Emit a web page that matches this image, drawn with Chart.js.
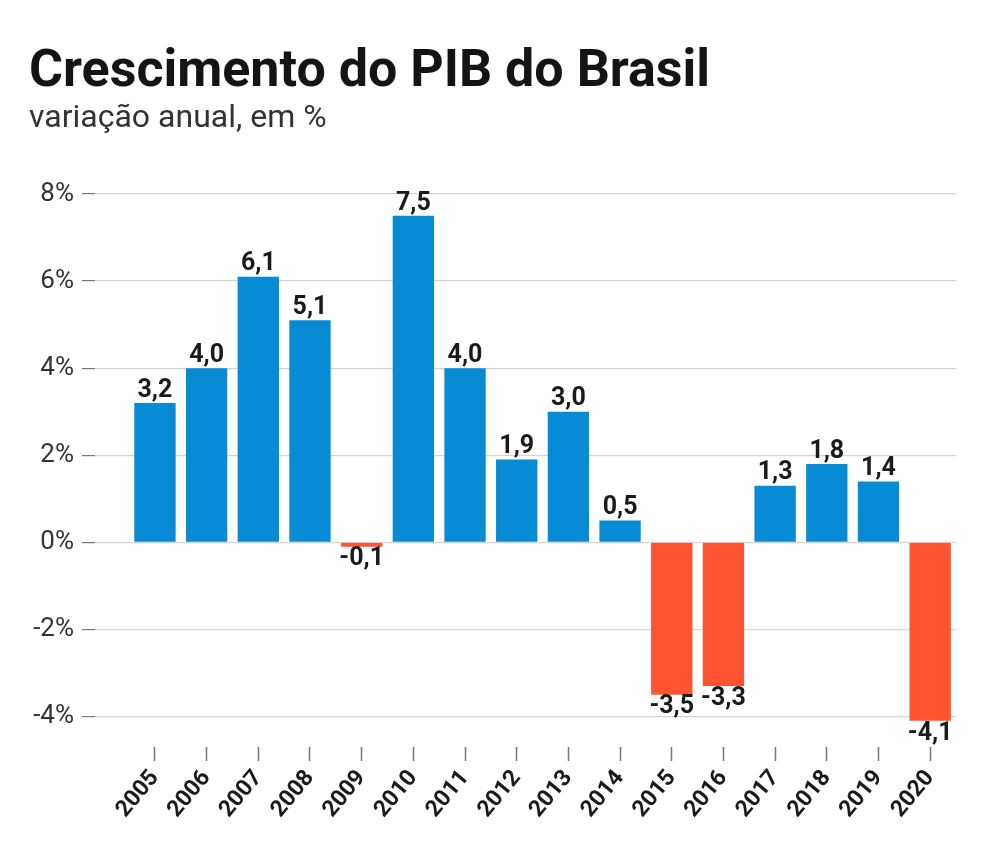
<!DOCTYPE html>
<html>
<head>
<meta charset="utf-8">
<script src="https://cdn.jsdelivr.net/npm/chart.js@4.4.1/dist/chart.umd.min.js"></script>
<style>
  body { margin: 0; background: #ffffff; }
  #wrap { position: relative; width: 1001px; height: 859px; }
</style>
</head>
<body>
<div id="wrap"><canvas id="pib" width="1001" height="859"></canvas></div>
<script>
/* --------------- Data --------------------- */
const years = [2005, 2006, 2007, 2008, 2009, 2010, 2011, 2012, 2013, 2014, 2015, 2016, 2017, 2018, 2019, 2020];
const growth = [3.2, 4.0, 6.1, 5.1, -0.1, 7.5, 4.0, 1.9, 3.0, 0.5, -3.5, -3.3, 1.3, 1.8, 1.4, -4.1];
const yTicks = [-4, -2, 0, 2, 4, 6, 8];

const title = "Crescimento do PIB do Brasil";
const subtitle = "variação anual, em %";

/* --------------- Colors --------------------- */
const blue = "#078bd5";
const red = "#ff5332";

/* --------------- Headline drawn on the canvas --------------------- */
const headline = {
    id: "headline",
    beforeDraw(chart) {
        const ctx = chart.ctx;
        ctx.save();
        ctx.textAlign = "left";
        ctx.textBaseline = "alphabetic";
        ctx.fillStyle = "#141414";
        ctx.font = "bold 52px Roboto";
        ctx.fillText(title, 29, 86);
        ctx.fillStyle = "#333333";
        ctx.font = "32px Roboto";
        ctx.fillText(subtitle, 29, 127);
        ctx.restore();
    },
};

/* --------------- Value labels on the bars --------------------- */
const valueLabels = {
    id: "valueLabels",
    afterDatasetsDraw(chart) {
        const ctx = chart.ctx;
        const meta = chart.getDatasetMeta(0);
        ctx.save();
        ctx.font = "bold 25px Roboto";
        ctx.fillStyle = "#1a1a1a";
        ctx.textAlign = "center";
        meta.data.forEach((bar, i) => {
            const v = growth[i];
            const txt = v.toFixed(1).replace(".", ",");
            if (v >= 0) {
                ctx.textBaseline = "bottom";
                ctx.fillText(txt, bar.x, bar.y);
            } else {
                ctx.textBaseline = "top";
                ctx.fillText(txt, bar.x, bar.y);
            }
        });
        ctx.restore();
    },
};

/* --------------- Chart --------------------- */
const pibChart = new Chart(document.getElementById("pib"), {
    type: "bar",
    plugins: [headline, valueLabels],
    data: {
        datasets: [
            {
                data: years.map((y, i) => ({ x: y, y: growth[i] })),
                backgroundColor: growth.map((v) => (v < 0 ? red : blue)),
                barPercentage: 0.8,
                categoryPercentage: 1,
            },
        ],
    },
    options: {
        responsive: false,
        animation: false,
        layout: { padding: { top: 194, right: 45, left: 0, bottom: 0 } },
        plugins: {
            legend: { display: false },
            tooltip: { enabled: false },
        },
        scales: {
            x: {
                type: "linear",
                offset: false,
                min: 2003.84,
                max: 2020.5,
                afterBuildTicks: (s) => {
                    s.ticks = years.map((v) => ({ value: v }));
                },
                afterFit: (s) => {
                    s.height = 112;
                },
                border: { display: false },
                grid: {
                    offset: false,
                    drawOnChartArea: false,
                    tickLength: 14,
                    tickColor: "#777777",
                    tickWidth: 1.5,
                },
                ticks: {
                    autoSkip: false,
                    minRotation: 50,
                    maxRotation: 50,
                    padding: 4,
                    color: "#1a1a1a",
                    font: { family: "Roboto", size: 23, weight: "bold" },
                    callback: (v) => String(v),
                },
            },
            y: {
                min: -4.7,
                max: 8,
                afterBuildTicks: (s) => {
                    s.ticks = yTicks.map((v) => ({ value: v }));
                },
                afterFit: (s) => {
                    s.width = 95;
                },
                border: { display: false },
                grid: {
                    color: "#d4d4d4",
                    tickColor: "#777777",
                    tickLength: 13,
                    lineWidth: 1.2,
                },
                ticks: {
                    padding: 8,
                    color: "#333333",
                    font: { family: "Roboto", size: 26 },
                    callback: (v) => v + "%",
                },
            },
        },
    },
});
</script>
</body>
</html>
